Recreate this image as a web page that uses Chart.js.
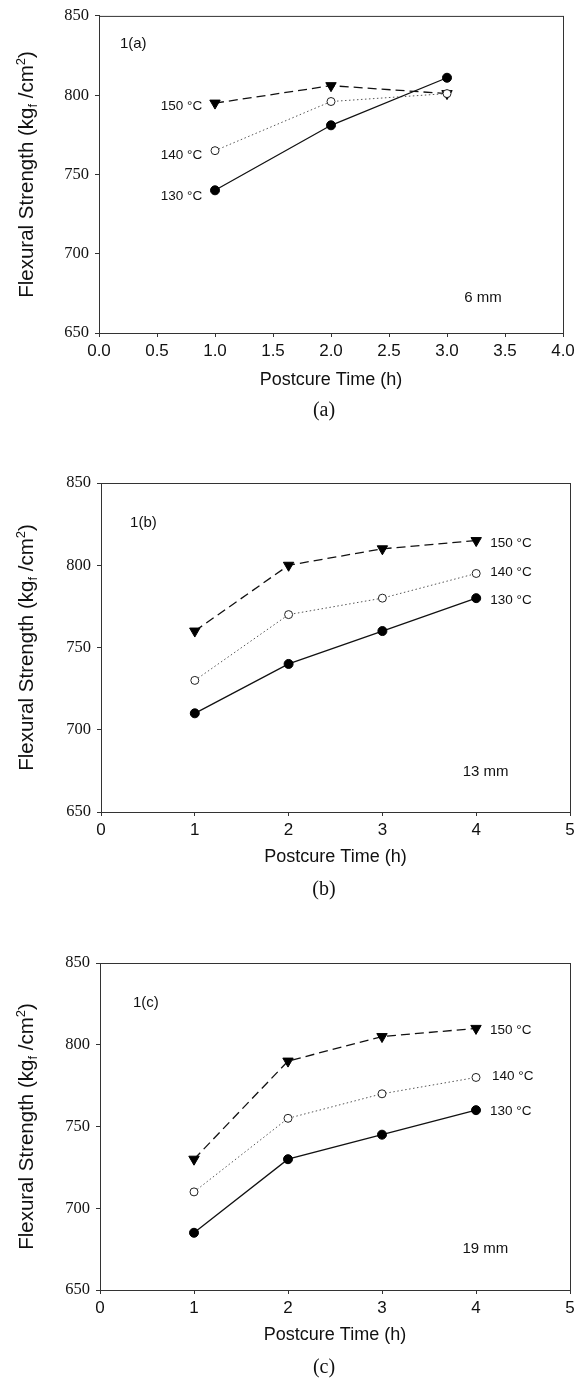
<!DOCTYPE html>
<html>
<head>
<meta charset="utf-8">
<script src="https://cdn.jsdelivr.net/npm/chart.js@4.4.1/dist/chart.umd.min.js"></script>
<style>
  body { margin: 0; background: #fff; }
  canvas { position: absolute; left: 0; }
</style>
</head>
<body>
<canvas id="chartA" width="584" height="430" style="top:0px"></canvas>
<canvas id="chartB" width="584" height="470" style="top:440px"></canvas>
<canvas id="chartC" width="584" height="471" style="top:910px"></canvas>
<script>
// data
const timeA = [1, 2, 3];
const timeBC = [1, 2, 3, 4];
const temps = ['130 °C', '140 °C', '150 °C'];

const strength130A = [740, 781, 811];
const strength140A = [765, 796, 801];
const strength150A = [795, 806, 801];

const strength130B = [710, 740, 760, 780];
const strength140B = [730, 770, 780, 795];
const strength150B = [760, 800, 810, 815];

const strength130C = [685, 730, 745, 760];
const strength140C = [710, 755, 770, 780];
const strength150C = [730, 790, 805, 810];

const yTickValues = [650, 700, 750, 800, 850];
const xTickValuesA = [0, 0.5, 1, 1.5, 2, 2.5, 3, 3.5, 4];
const xTickValuesBC = [0, 1, 2, 3, 4, 5];

const captions = ['(a)', '(b)', '(c)'];
const panelTags = ['1(a)', '1(b)', '1(c)'];
const thicknesses = ['6 mm', '13 mm', '19 mm'];

const SANS = '"Liberation Sans", Arial, sans-serif';
const SERIF = '"Liberation Serif", "Times New Roman", serif';
const INK = '#111';

// line / marker look for 130, 140, 150 °C
const seriesStyle = [
  { borderColor: INK, borderWidth: 1.3, borderDash: [], pointStyle: 'circle', pointRadius: 4.5, pointBackgroundColor: '#000', pointBorderColor: '#000', pointRotation: 0 },
  { borderColor: '#555', borderWidth: 1, borderDash: [1.5, 2.5], pointStyle: 'circle', pointRadius: 4, pointBackgroundColor: '#fff', pointBorderColor: '#222', pointRotation: 0 },
  { borderColor: INK, borderWidth: 1.3, borderDash: [9, 5], pointStyle: 'triangle', pointRadius: 6, pointBackgroundColor: '#000', pointBorderColor: '#000', pointRotation: 180 }
];

const panels = [
  {
    id: 'chartA', height: 430,
    area: { left: 99, right: 563, top: 10, bottom: 333 },
    xTitleY: 380, captionY: 411,
    xMax: 4, xTicks: xTickValuesA, xFmt: v => v.toFixed(1),
    x: timeA, series: [strength130A, strength140A, strength150A],
    labelAlign: 'right', labelX: [0.89, 0.89, 0.89], labelY: [736.5, 762, 793],
    tagAt: [0.18, 832.5], mmAt: [3.31, 672]
  },
  {
    id: 'chartB', height: 470,
    area: { left: 101, right: 570, top: 43, bottom: 372 },
    xTitleY: 417, captionY: 450,
    xMax: 5, xTicks: xTickValuesBC, xFmt: v => String(v),
    x: timeBC, series: [strength130B, strength140B, strength150B],
    labelAlign: 'left', labelX: [4.15, 4.15, 4.15], labelY: [779, 795.5, 813.5],
    tagAt: [0.31, 825.5], mmAt: [4.1, 674.5]
  },
  {
    id: 'chartC', height: 471,
    area: { left: 100, right: 570, top: 53, bottom: 380 },
    xTitleY: 425, captionY: 458,
    xMax: 5, xTicks: xTickValuesBC, xFmt: v => String(v),
    x: timeBC, series: [strength130C, strength140C, strength150C],
    labelAlign: 'left', labelX: [4.15, 4.17, 4.15], labelY: [759.5, 781, 809],
    tagAt: [0.35, 825.5], mmAt: [4.1, 675]
  }
];

function drawYTitle(ctx, cx, cy) {
  const big = '20.5px ' + SANS;
  const small = '13px ' + SANS;
  const parts = [
    { t: 'Flexural Strength (kg', f: big, dy: 7 },
    { t: 'f', f: small, dy: 11 },
    { t: ' /cm', f: big, dy: 7 },
    { t: '2', f: small, dy: -1 },
    { t: ')', f: big, dy: 7 }
  ];
  ctx.save();
  ctx.translate(cx, cy);
  ctx.rotate(-Math.PI / 2);
  let total = 0;
  parts.forEach(p => { ctx.font = p.f; p.w = ctx.measureText(p.t).width; total += p.w; });
  let x = -total / 2;
  ctx.textBaseline = 'alphabetic';
  ctx.textAlign = 'left';
  ctx.fillStyle = INK;
  parts.forEach(p => { ctx.font = p.f; ctx.fillText(p.t, x, p.dy); x += p.w; });
  ctx.restore();
}

function makeExtras(panel, idx) {
  return {
    id: 'extras' + idx,
    afterDraw(chart) {
      const ctx = chart.ctx;
      const a = chart.chartArea;
      const xs = chart.scales.x, ys = chart.scales.y;
      ctx.save();
      // frame
      ctx.strokeStyle = '#333';
      ctx.lineWidth = 1;
      ctx.strokeRect(a.left + 0.5, a.top + 0.5, a.right - a.left, a.bottom - a.top);

      ctx.fillStyle = INK;
      // axis titles
      ctx.font = '18px ' + SANS;
      ctx.textAlign = 'center';
      ctx.textBaseline = 'middle';
      ctx.fillText('Postcure Time (h)', (a.left + a.right) / 2, panel.xTitleY);
      drawYTitle(ctx, 26, (a.top + a.bottom) / 2);

      // caption
      ctx.font = '20px ' + SERIF;
      ctx.fillText(captions[idx], 324, panel.captionY);

      // series labels
      ctx.font = '13.5px ' + SANS;
      ctx.textAlign = panel.labelAlign;
      temps.forEach((t, i) => {
        ctx.fillText(t, xs.getPixelForValue(panel.labelX[i]), ys.getPixelForValue(panel.labelY[i]));
      });

      // panel tag and thickness
      ctx.font = '15px ' + SANS;
      ctx.textAlign = 'left';
      ctx.fillText(panelTags[idx], xs.getPixelForValue(panel.tagAt[0]), ys.getPixelForValue(panel.tagAt[1]));
      ctx.textAlign = 'center';
      ctx.fillText(thicknesses[idx], xs.getPixelForValue(panel.mmAt[0]), ys.getPixelForValue(panel.mmAt[1]));
      ctx.restore();
    }
  };
}

panels.forEach((panel, idx) => {
  const datasets = panel.series.map((vals, i) => Object.assign({
    label: temps[i],
    data: vals.map((v, k) => ({ x: panel.x[k], y: v })),
    fill: false,
    tension: 0,
    pointBorderWidth: 1
  }, seriesStyle[i]));

  new Chart(document.getElementById(panel.id), {
    type: 'line',
    data: { datasets: datasets },
    plugins: [makeExtras(panel, idx)],
    options: {
      responsive: false,
      animation: false,
      events: [],
      layout: { padding: { left: 0, top: panel.area.top, right: 584 - panel.area.right, bottom: 0 } },
      plugins: { legend: { display: false }, tooltip: { enabled: false } },
      scales: {
        x: {
          type: 'linear', min: 0, max: panel.xMax,
          afterBuildTicks: s => { s.ticks = panel.xTicks.map(v => ({ value: v })); },
          afterFit: s => { s.height = panel.height - panel.area.bottom; },
          border: { display: true, color: '#333', width: 1 },
          grid: { drawOnChartArea: false, drawTicks: true, tickLength: 4, color: '#333' },
          ticks: { color: INK, padding: 4, maxRotation: 0, autoSkip: false, font: { family: SANS, size: 17 }, callback: v => panel.xFmt(v) }
        },
        y: {
          type: 'linear', min: 650, max: 850,
          afterBuildTicks: s => { s.ticks = yTickValues.map(v => ({ value: v })); },
          afterFit: s => { s.width = panel.area.left; },
          border: { display: true, color: '#333', width: 1 },
          grid: { drawOnChartArea: false, drawTicks: true, tickLength: 4, color: '#333' },
          ticks: { color: INK, padding: 6, autoSkip: false, font: { family: SERIF, size: 16.5 } }
        }
      }
    }
  });
});
</script>
</body>
</html>
